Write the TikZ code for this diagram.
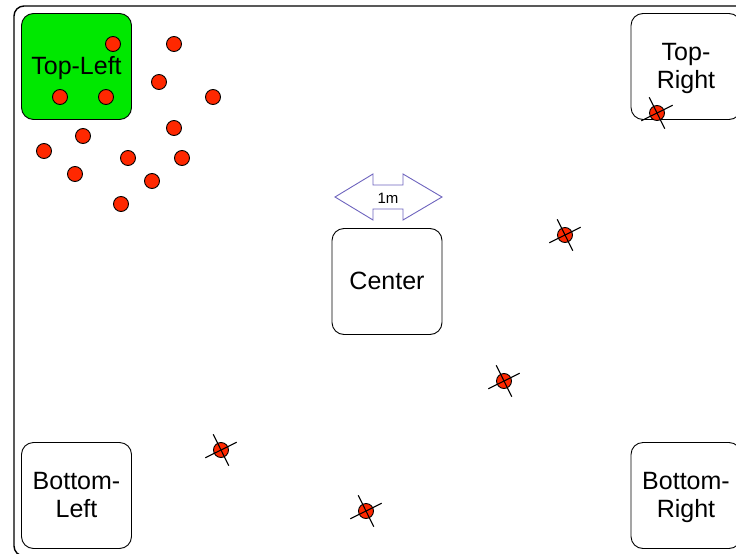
\documentclass[tikz,border=0pt]{standalone}
\usepackage{fontspec}
\setmainfont{Liberation Sans}
\definecolor{boxgreen}{RGB}{0,232,0}
\definecolor{dotred}{RGB}{255,40,0}
\definecolor{arrowpurple}{RGB}{110,100,190}
\begin{document}
\begin{tikzpicture}[x=1pt,y=-1pt,
  frame/.style={draw=black,line width=1.4pt,rounded corners=10pt},
  place/.style={draw=black,line width=0.9pt,rounded corners=12pt,minimum width=110pt,minimum height=106pt,
    font=\fontsize{25}{28}\selectfont,align=center,inner sep=0pt,text depth=2pt},
  dot/.style={circle,draw=black,fill=dotred,line width=0.9pt,minimum size=15pt,inner sep=0pt},
  xline/.style={draw=black,line width=1.1pt},
  scalearrow/.style={draw=arrowpurple,line width=0.9pt,fill=white,line join=miter},
  scalelabel/.style={font=\fontsize{15}{17}\selectfont,inner sep=0pt}
]
\useasboundingbox (0,0) rectangle (736,554);
\clip (0,0) rectangle (736,554);
\draw[frame] (14,6) rectangle (760,556);

\node[place,fill=boxgreen] (tl) at (76.5,66.5) {Top-Left};
\node[place] (tr) at (686,66.5) {Top-\\Right};
\node[place] (bl) at (76.5,495.5) {Bottom-\\Left};
\node[place] (br) at (686,495.5) {Bottom-\\Right};
\node[place] (c) at (387,281.5) {Center};

\draw[scalearrow] (335,197) -- (373,174) -- (373,185) -- (403,185) -- (403,174) -- (442,197)
  -- (403,220) -- (403,209) -- (373,209) -- (373,220) -- cycle;
\node[scalelabel] (m) at (388,198) {1m};

\foreach \n/\x/\y in {d1/113/44,d2/174/44,d3/159/82,d4/60/97,d5/106/97,d6/213/97,d7/83/136,
  d8/174/128,d9/44/151,d10/128/158,d11/182/158,d12/75/174,d13/152/181,d14/121/204}
  \node[dot] (\n) at (\x,\y) {};

\foreach \n/\x/\y in {x1/657/113,x2/565/235,x3/504/381,x4/221/450,x5/366/511}{
  \node[dot] (\n) at (\x,\y) {};
  \draw[xline] ([shift={(-15.7,7.8)}]\n.center) -- ([shift={(15.7,-7.8)}]\n.center);
  \draw[xline] ([shift={(-7.8,-15.7)}]\n.center) -- ([shift={(7.8,15.7)}]\n.center);
}
\end{tikzpicture}
\end{document}
